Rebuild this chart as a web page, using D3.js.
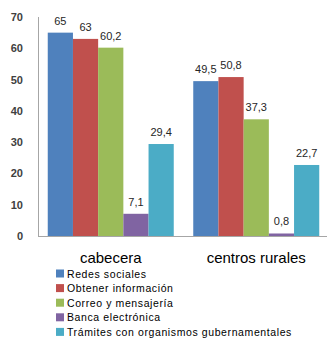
<!DOCTYPE html>
<html>
<head>
<meta charset="utf-8">
<script src="https://cdn.jsdelivr.net/npm/d3@7"></script>
<style>
  body { margin: 0; background: #fff; }
  text { font-family: "Liberation Sans", Arial, sans-serif; }
</style>
</head>
<body>
<div class="chart-container"></div>
<script>
const svgWidth = 327;
const svgHeight = 338;

const categories = ["cabecera", "centros rurales"];
const series = ["Redes sociales", "Obtener información", "Correo y mensajería", "Banca electrónica", "Trámites con organismos  gubernamentales"];
const colors = ["#4F81BD", "#C0504D", "#9BBB59", "#8064A2", "#4BACC6"];
const cabeceraValues = [65, 63, 60.2, 7.1, 29.4];
const ruralValues = [49.5, 50.8, 37.3, 0.8, 22.7];
const yTicks = [0, 10, 20, 30, 40, 50, 60, 70];

const values = [cabeceraValues, ruralValues];

const svg = d3.select(".chart-container")
              .append("svg")
              .attr("width", svgWidth)
              .attr("height", svgHeight);

const yScale = d3.scaleLinear()
                 .domain([0, 70])
                 .range([236, 17]);

const xScale = d3.scaleBand()
                 .domain(categories)
                 .range([38, 329])
                 .paddingInner(0.134)
                 .paddingOuter(0.067);

const xInner = d3.scaleBand()
                 .domain(series)
                 .range([0, xScale.bandwidth()]);

// y axis line
svg.append("line")
   .attr("x1", 38.5).attr("x2", 38.5)
   .attr("y1", yScale(70)).attr("y2", yScale(0))
   .attr("stroke", "#a6a6a6");

svg.append("g")
   .selectAll("text")
   .data(yTicks)
   .enter()
   .append("text")
   .attr("x", 23)
   .attr("y", function(d) { return yScale(d) + 4; })
   .attr("text-anchor", "end")
   .style("font-size", "11px")
   .style("font-weight", "bold")
   .style("fill", "#404040")
   .text(function(d) { return d; });

const groups = svg.selectAll(".grp")
   .data(categories)
   .enter()
   .append("g")
   .attr("class", "grp")
   .attr("transform", function(d) { return "translate(" + xScale(d) + ",0)"; });

groups.selectAll("rect")
   .data(function(d, i) { return values[i].map(function(v, j) { return {name: series[j], v: v, c: colors[j]}; }); })
   .enter()
   .append("rect")
   .attr("x", function(d) { return xInner(d.name); })
   .attr("y", function(d) { return yScale(d.v); })
   .attr("width", xInner.bandwidth())
   .attr("height", function(d) { return yScale(0) - yScale(d.v); })
   .style("fill", function(d) { return d.c; });

groups.selectAll(".val")
   .data(function(d, i) { return values[i].map(function(v, j) { return {name: series[j], v: v}; }); })
   .enter()
   .append("text")
   .attr("class", "val")
   .attr("x", function(d) { return xInner(d.name) + xInner.bandwidth() / 2; })
   .attr("y", function(d) { return yScale(d.v) - 8; })
   .attr("text-anchor", "middle")
   .style("font-size", "11px")
   .style("fill", "#262626")
   .text(function(d) { return String(d.v).replace(".", ","); });

svg.append("line")
   .attr("x1", 38).attr("x2", 329)
   .attr("y1", 236.5).attr("y2", 236.5)
   .attr("stroke", "#a6a6a6");

// category labels
svg.selectAll(".cat")
   .data(categories)
   .enter()
   .append("text")
   .attr("class", "cat")
   .attr("x", function(d) { return xScale(d) + xScale.bandwidth() / 2; })
   .attr("y", 263)
   .attr("text-anchor", "middle")
   .style("font-size", "15px")
   .style("fill", "#000")
   .text(function(d) { return d; });

// legend
const legend = svg.selectAll(".leg")
   .data(series)
   .enter()
   .append("g")
   .attr("class", "leg")
   .attr("transform", function(d, i) { return "translate(56," + (269.5 + i * 14.6) + ")"; });

legend.append("rect")
   .attr("width", 8).attr("height", 8)
   .style("fill", function(d, i) { return colors[i]; });

legend.append("text")
   .attr("x", 11)
   .attr("y", 8)
   .style("font-size", "10.5px")
   .style("letter-spacing", "0.6px")
   .style("fill", "#000")
   .text(function(d) { return d; });
</script>
</body>
</html>
